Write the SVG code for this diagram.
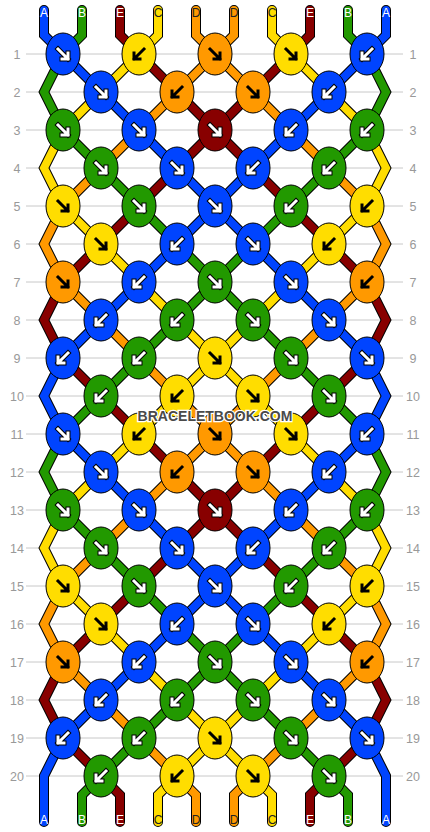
<svg xmlns="http://www.w3.org/2000/svg" xmlns:xlink="http://www.w3.org/1999/xlink" width="430" height="832" viewBox="0 0 430 832">
<style>
.grid{stroke:#c8c8c8;stroke-width:1}
.rl{font-family:"Liberation Sans",Arial,sans-serif;font-size:12.5px;fill:#999;text-anchor:middle}
.sl{font-family:"Liberation Sans",Arial,sans-serif;font-size:12px;text-anchor:middle}
.so{fill:none;stroke:#000;stroke-width:10;stroke-linecap:round;stroke-linejoin:miter;stroke-miterlimit:4}
.si{fill:none;stroke-width:8;stroke-linecap:round;stroke-linejoin:miter;stroke-miterlimit:4}
.b{stroke:#0044ff}.g{stroke:#229900}.r{stroke:#880000}.y{stroke:#ffdd00}.o{stroke:#ff9900}
.cb{fill:#0044ff}.cg{fill:#229900}.cr{fill:#880000}.cy{fill:#ffdd00}.co{fill:#ff9900}
.wm{font-family:"Liberation Sans",Arial,sans-serif;font-size:14px;font-weight:bold;fill:#4a4a4a;stroke:#fff;stroke-width:2.5;paint-order:stroke;text-anchor:middle}
</style>
<defs>
<ellipse id="e" rx="17" ry="21" stroke="#000" stroke-width="1"/>
<g id="fw" fill="none" stroke-linecap="square"><path d="M-5,-5L5,5M-1,5H5V-1" stroke="#000" stroke-width="5"/><path d="M-5,-5L5,5M-1,5H5V-1" stroke="#fff" stroke-width="3"/></g>
<g id="bw" fill="none" stroke-linecap="square"><path d="M5,-5L-5,5M1,5H-5V-1" stroke="#000" stroke-width="5"/><path d="M5,-5L-5,5M1,5H-5V-1" stroke="#fff" stroke-width="3"/></g>
<g id="fk" fill="none" stroke-linecap="square"><path d="M-5,-5L5,5M-1,5H5V-1" stroke="#000" stroke-width="3"/></g>
<g id="bk" fill="none" stroke-linecap="square"><path d="M5,-5L-5,5M1,5H-5V-1" stroke="#000" stroke-width="3"/></g>
</defs>
<rect width="430" height="832" fill="#fff"/>
<g id="grid" class="grid">
<line x1="26" y1="54" x2="403" y2="54"/><line x1="26" y1="92" x2="403" y2="92"/><line x1="26" y1="130" x2="403" y2="130"/><line x1="26" y1="168" x2="403" y2="168"/><line x1="26" y1="206" x2="403" y2="206"/><line x1="26" y1="244" x2="403" y2="244"/><line x1="26" y1="282" x2="403" y2="282"/><line x1="26" y1="320" x2="403" y2="320"/><line x1="26" y1="358" x2="403" y2="358"/><line x1="26" y1="396" x2="403" y2="396"/><line x1="26" y1="434" x2="403" y2="434"/><line x1="26" y1="472" x2="403" y2="472"/><line x1="26" y1="510" x2="403" y2="510"/><line x1="26" y1="548" x2="403" y2="548"/><line x1="26" y1="586" x2="403" y2="586"/><line x1="26" y1="624" x2="403" y2="624"/><line x1="26" y1="662" x2="403" y2="662"/><line x1="26" y1="700" x2="403" y2="700"/><line x1="26" y1="738" x2="403" y2="738"/><line x1="26" y1="776" x2="403" y2="776"/>
</g>
<g id="row-labels" class="rl">
<text x="17" y="58.5">1</text><text x="17" y="96.5">2</text><text x="17" y="134.5">3</text><text x="17" y="172.5">4</text><text x="17" y="210.5">5</text><text x="17" y="248.5">6</text><text x="17" y="286.5">7</text><text x="17" y="324.5">8</text><text x="17" y="362.5">9</text><text x="17" y="400.5">10</text><text x="17" y="438.5">11</text><text x="17" y="476.5">12</text><text x="17" y="514.5">13</text><text x="17" y="552.5">14</text><text x="17" y="590.5">15</text><text x="17" y="628.5">16</text><text x="17" y="666.5">17</text><text x="17" y="704.5">18</text><text x="17" y="742.5">19</text><text x="17" y="780.5">20</text>
<text x="413" y="58.5">1</text><text x="413" y="96.5">2</text><text x="413" y="134.5">3</text><text x="413" y="172.5">4</text><text x="413" y="210.5">5</text><text x="413" y="248.5">6</text><text x="413" y="286.5">7</text><text x="413" y="324.5">8</text><text x="413" y="362.5">9</text><text x="413" y="400.5">10</text><text x="413" y="438.5">11</text><text x="413" y="476.5">12</text><text x="413" y="514.5">13</text><text x="413" y="552.5">14</text><text x="413" y="590.5">15</text><text x="413" y="628.5">16</text><text x="413" y="666.5">17</text><text x="413" y="704.5">18</text><text x="413" y="742.5">19</text><text x="413" y="780.5">20</text>
</g>
<g id="strings">
<path id="s0o" class="so" d="M44,10L44,35L63,54L101,92L139,130L177,168L215,206L253,244L291,282L329,320L367,358L386,396L367,434L329,472L291,510L253,548L215,586L177,624L139,662L101,700L63,738L44,776L44,822"/>
<path class="si b" d="M44,10L44,35L63,54L101,92L139,130L177,168L215,206L253,244L291,282L329,320L367,358L386,396L367,434L329,472L291,510L253,548L215,586L177,624L139,662L101,700L63,738L44,776L44,822"/>
<path class="so" d="M82,10L82,35L63,54L44,92L63,130L101,168L139,206L177,244L215,282L253,320L291,358L329,396L367,434L386,472L367,510L329,548L291,586L253,624L215,662L177,700L139,738L101,776L82,795L82,822"/>
<path class="si g" d="M82,10L82,35L63,54L44,92L63,130L101,168L139,206L177,244L215,282L253,320L291,358L329,396L367,434L386,472L367,510L329,548L291,586L253,624L215,662L177,700L139,738L101,776L82,795L82,822"/>
<path class="so" d="M120,10L120,35L139,54L177,92L215,130L253,168L291,206L329,244L367,282L386,320L367,358L329,396L291,434L253,472L215,510L177,548L139,586L101,624L63,662L44,700L63,738L101,776L120,795L120,822"/>
<path class="si r" d="M120,10L120,35L139,54L177,92L215,130L253,168L291,206L329,244L367,282L386,320L367,358L329,396L291,434L253,472L215,510L177,548L139,586L101,624L63,662L44,700L63,738L101,776L120,795L120,822"/>
<path class="so" d="M158,10L158,35L139,54L101,92L63,130L44,168L63,206L101,244L139,282L177,320L215,358L253,396L291,434L329,472L367,510L386,548L367,586L329,624L291,662L253,700L215,738L177,776L158,795L158,822"/>
<path class="si y" d="M158,10L158,35L139,54L101,92L63,130L44,168L63,206L101,244L139,282L177,320L215,358L253,396L291,434L329,472L367,510L386,548L367,586L329,624L291,662L253,700L215,738L177,776L158,795L158,822"/>
<path class="so" d="M196,10L196,35L215,54L253,92L291,130L329,168L367,206L386,244L367,282L329,320L291,358L253,396L215,434L177,472L139,510L101,548L63,586L44,624L63,662L101,700L139,738L177,776L196,795L196,822"/>
<path class="si o" d="M196,10L196,35L215,54L253,92L291,130L329,168L367,206L386,244L367,282L329,320L291,358L253,396L215,434L177,472L139,510L101,548L63,586L44,624L63,662L101,700L139,738L177,776L196,795L196,822"/>
<path class="so" d="M234,10L234,35L215,54L177,92L139,130L101,168L63,206L44,244L63,282L101,320L139,358L177,396L215,434L253,472L291,510L329,548L367,586L386,624L367,662L329,700L291,738L253,776L234,795L234,822"/>
<path class="si o" d="M234,10L234,35L215,54L177,92L139,130L101,168L63,206L44,244L63,282L101,320L139,358L177,396L215,434L253,472L291,510L329,548L367,586L386,624L367,662L329,700L291,738L253,776L234,795L234,822"/>
<path class="so" d="M272,10L272,35L291,54L329,92L367,130L386,168L367,206L329,244L291,282L253,320L215,358L177,396L139,434L101,472L63,510L44,548L63,586L101,624L139,662L177,700L215,738L253,776L272,795L272,822"/>
<path class="si y" d="M272,10L272,35L291,54L329,92L367,130L386,168L367,206L329,244L291,282L253,320L215,358L177,396L139,434L101,472L63,510L44,548L63,586L101,624L139,662L177,700L215,738L253,776L272,795L272,822"/>
<path class="so" d="M310,10L310,35L291,54L253,92L215,130L177,168L139,206L101,244L63,282L44,320L63,358L101,396L139,434L177,472L215,510L253,548L291,586L329,624L367,662L386,700L367,738L329,776L310,795L310,822"/>
<path class="si r" d="M310,10L310,35L291,54L253,92L215,130L177,168L139,206L101,244L63,282L44,320L63,358L101,396L139,434L177,472L215,510L253,548L291,586L329,624L367,662L386,700L367,738L329,776L310,795L310,822"/>
<path class="so" d="M348,10L348,35L367,54L386,92L367,130L329,168L291,206L253,244L215,282L177,320L139,358L101,396L63,434L44,472L63,510L101,548L139,586L177,624L215,662L253,700L291,738L329,776L348,795L348,822"/>
<path class="si g" d="M348,10L348,35L367,54L386,92L367,130L329,168L291,206L253,244L215,282L177,320L139,358L101,396L63,434L44,472L63,510L101,548L139,586L177,624L215,662L253,700L291,738L329,776L348,795L348,822"/>
<path class="so" d="M386,10L386,35L367,54L329,92L291,130L253,168L215,206L177,244L139,282L101,320L63,358L44,396L63,434L101,472L139,510L177,548L215,586L253,624L291,662L329,700L367,738L386,776L386,822"/>
<path class="si b" d="M386,10L386,35L367,54L329,92L291,130L253,168L215,206L177,244L139,282L101,320L63,358L44,396L63,434L101,472L139,510L177,548L215,586L253,624L291,662L329,700L367,738L386,776L386,822"/>
</g>
<g id="string-labels" class="sl">
<text x="44" y="16.5" fill="#fff">A</text><text x="82" y="16.5" fill="#fff">B</text><text x="120" y="16.5" fill="#fff">E</text><text x="158" y="16.5" fill="#222">C</text><text x="196" y="16.5" fill="#222">D</text><text x="234" y="16.5" fill="#222">D</text><text x="272" y="16.5" fill="#222">C</text><text x="310" y="16.5" fill="#fff">E</text><text x="348" y="16.5" fill="#fff">B</text><text x="386" y="16.5" fill="#fff">A</text>
<text x="44" y="824" fill="#fff">A</text><text x="82" y="824" fill="#fff">B</text><text x="120" y="824" fill="#fff">E</text><text x="158" y="824" fill="#222">C</text><text x="196" y="824" fill="#222">D</text><text x="234" y="824" fill="#222">D</text><text x="272" y="824" fill="#222">C</text><text x="310" y="824" fill="#fff">E</text><text x="348" y="824" fill="#fff">B</text><text x="386" y="824" fill="#fff">A</text>
</g>
<g id="knots">
<g id="k1-1"><use href="#e" x="63" y="54" class="cb"/><use href="#fw" x="63" y="54"/></g>
<g id="k1-2"><use href="#e" x="139" y="54" class="cy"/><use href="#bk" x="139" y="54"/></g>
<g id="k1-3"><use href="#e" x="215" y="54" class="co"/><use href="#fk" x="215" y="54"/></g>
<g id="k1-4"><use href="#e" x="291" y="54" class="cy"/><use href="#fk" x="291" y="54"/></g>
<g id="k1-5"><use href="#e" x="367" y="54" class="cb"/><use href="#bw" x="367" y="54"/></g>
<g id="k2-1"><use href="#e" x="101" y="92" class="cb"/><use href="#fw" x="101" y="92"/></g>
<g id="k2-2"><use href="#e" x="177" y="92" class="co"/><use href="#bk" x="177" y="92"/></g>
<g id="k2-3"><use href="#e" x="253" y="92" class="co"/><use href="#fk" x="253" y="92"/></g>
<g id="k2-4"><use href="#e" x="329" y="92" class="cb"/><use href="#bw" x="329" y="92"/></g>
<g id="k3-1"><use href="#e" x="63" y="130" class="cg"/><use href="#fw" x="63" y="130"/></g>
<g id="k3-2"><use href="#e" x="139" y="130" class="cb"/><use href="#fw" x="139" y="130"/></g>
<g id="k3-3"><use href="#e" x="215" y="130" class="cr"/><use href="#fw" x="215" y="130"/></g>
<g id="k3-4"><use href="#e" x="291" y="130" class="cb"/><use href="#bw" x="291" y="130"/></g>
<g id="k3-5"><use href="#e" x="367" y="130" class="cg"/><use href="#bw" x="367" y="130"/></g>
<g id="k4-1"><use href="#e" x="101" y="168" class="cg"/><use href="#fw" x="101" y="168"/></g>
<g id="k4-2"><use href="#e" x="177" y="168" class="cb"/><use href="#fw" x="177" y="168"/></g>
<g id="k4-3"><use href="#e" x="253" y="168" class="cb"/><use href="#bw" x="253" y="168"/></g>
<g id="k4-4"><use href="#e" x="329" y="168" class="cg"/><use href="#bw" x="329" y="168"/></g>
<g id="k5-1"><use href="#e" x="63" y="206" class="cy"/><use href="#fk" x="63" y="206"/></g>
<g id="k5-2"><use href="#e" x="139" y="206" class="cg"/><use href="#fw" x="139" y="206"/></g>
<g id="k5-3"><use href="#e" x="215" y="206" class="cb"/><use href="#fw" x="215" y="206"/></g>
<g id="k5-4"><use href="#e" x="291" y="206" class="cg"/><use href="#bw" x="291" y="206"/></g>
<g id="k5-5"><use href="#e" x="367" y="206" class="cy"/><use href="#bk" x="367" y="206"/></g>
<g id="k6-1"><use href="#e" x="101" y="244" class="cy"/><use href="#fk" x="101" y="244"/></g>
<g id="k6-2"><use href="#e" x="177" y="244" class="cb"/><use href="#bw" x="177" y="244"/></g>
<g id="k6-3"><use href="#e" x="253" y="244" class="cb"/><use href="#fw" x="253" y="244"/></g>
<g id="k6-4"><use href="#e" x="329" y="244" class="cy"/><use href="#bk" x="329" y="244"/></g>
<g id="k7-1"><use href="#e" x="63" y="282" class="co"/><use href="#fk" x="63" y="282"/></g>
<g id="k7-2"><use href="#e" x="139" y="282" class="cb"/><use href="#bw" x="139" y="282"/></g>
<g id="k7-3"><use href="#e" x="215" y="282" class="cg"/><use href="#fw" x="215" y="282"/></g>
<g id="k7-4"><use href="#e" x="291" y="282" class="cb"/><use href="#fw" x="291" y="282"/></g>
<g id="k7-5"><use href="#e" x="367" y="282" class="co"/><use href="#bk" x="367" y="282"/></g>
<g id="k8-1"><use href="#e" x="101" y="320" class="cb"/><use href="#bw" x="101" y="320"/></g>
<g id="k8-2"><use href="#e" x="177" y="320" class="cg"/><use href="#bw" x="177" y="320"/></g>
<g id="k8-3"><use href="#e" x="253" y="320" class="cg"/><use href="#fw" x="253" y="320"/></g>
<g id="k8-4"><use href="#e" x="329" y="320" class="cb"/><use href="#fw" x="329" y="320"/></g>
<g id="k9-1"><use href="#e" x="63" y="358" class="cb"/><use href="#bw" x="63" y="358"/></g>
<g id="k9-2"><use href="#e" x="139" y="358" class="cg"/><use href="#bw" x="139" y="358"/></g>
<g id="k9-3"><use href="#e" x="215" y="358" class="cy"/><use href="#fk" x="215" y="358"/></g>
<g id="k9-4"><use href="#e" x="291" y="358" class="cg"/><use href="#fw" x="291" y="358"/></g>
<g id="k9-5"><use href="#e" x="367" y="358" class="cb"/><use href="#fw" x="367" y="358"/></g>
<g id="k10-1"><use href="#e" x="101" y="396" class="cg"/><use href="#bw" x="101" y="396"/></g>
<g id="k10-2"><use href="#e" x="177" y="396" class="cy"/><use href="#bk" x="177" y="396"/></g>
<g id="k10-3"><use href="#e" x="253" y="396" class="cy"/><use href="#fk" x="253" y="396"/></g>
<g id="k10-4"><use href="#e" x="329" y="396" class="cg"/><use href="#fw" x="329" y="396"/></g>
<g id="k11-1"><use href="#e" x="63" y="434" class="cb"/><use href="#fw" x="63" y="434"/></g>
<g id="k11-2"><use href="#e" x="139" y="434" class="cy"/><use href="#bk" x="139" y="434"/></g>
<g id="k11-3"><use href="#e" x="215" y="434" class="co"/><use href="#fk" x="215" y="434"/></g>
<g id="k11-4"><use href="#e" x="291" y="434" class="cy"/><use href="#fk" x="291" y="434"/></g>
<g id="k11-5"><use href="#e" x="367" y="434" class="cb"/><use href="#bw" x="367" y="434"/></g>
<g id="k12-1"><use href="#e" x="101" y="472" class="cb"/><use href="#fw" x="101" y="472"/></g>
<g id="k12-2"><use href="#e" x="177" y="472" class="co"/><use href="#bk" x="177" y="472"/></g>
<g id="k12-3"><use href="#e" x="253" y="472" class="co"/><use href="#fk" x="253" y="472"/></g>
<g id="k12-4"><use href="#e" x="329" y="472" class="cb"/><use href="#bw" x="329" y="472"/></g>
<g id="k13-1"><use href="#e" x="63" y="510" class="cg"/><use href="#fw" x="63" y="510"/></g>
<g id="k13-2"><use href="#e" x="139" y="510" class="cb"/><use href="#fw" x="139" y="510"/></g>
<g id="k13-3"><use href="#e" x="215" y="510" class="cr"/><use href="#fw" x="215" y="510"/></g>
<g id="k13-4"><use href="#e" x="291" y="510" class="cb"/><use href="#bw" x="291" y="510"/></g>
<g id="k13-5"><use href="#e" x="367" y="510" class="cg"/><use href="#bw" x="367" y="510"/></g>
<g id="k14-1"><use href="#e" x="101" y="548" class="cg"/><use href="#fw" x="101" y="548"/></g>
<g id="k14-2"><use href="#e" x="177" y="548" class="cb"/><use href="#fw" x="177" y="548"/></g>
<g id="k14-3"><use href="#e" x="253" y="548" class="cb"/><use href="#bw" x="253" y="548"/></g>
<g id="k14-4"><use href="#e" x="329" y="548" class="cg"/><use href="#bw" x="329" y="548"/></g>
<g id="k15-1"><use href="#e" x="63" y="586" class="cy"/><use href="#fk" x="63" y="586"/></g>
<g id="k15-2"><use href="#e" x="139" y="586" class="cg"/><use href="#fw" x="139" y="586"/></g>
<g id="k15-3"><use href="#e" x="215" y="586" class="cb"/><use href="#fw" x="215" y="586"/></g>
<g id="k15-4"><use href="#e" x="291" y="586" class="cg"/><use href="#bw" x="291" y="586"/></g>
<g id="k15-5"><use href="#e" x="367" y="586" class="cy"/><use href="#bk" x="367" y="586"/></g>
<g id="k16-1"><use href="#e" x="101" y="624" class="cy"/><use href="#fk" x="101" y="624"/></g>
<g id="k16-2"><use href="#e" x="177" y="624" class="cb"/><use href="#bw" x="177" y="624"/></g>
<g id="k16-3"><use href="#e" x="253" y="624" class="cb"/><use href="#fw" x="253" y="624"/></g>
<g id="k16-4"><use href="#e" x="329" y="624" class="cy"/><use href="#bk" x="329" y="624"/></g>
<g id="k17-1"><use href="#e" x="63" y="662" class="co"/><use href="#fk" x="63" y="662"/></g>
<g id="k17-2"><use href="#e" x="139" y="662" class="cb"/><use href="#bw" x="139" y="662"/></g>
<g id="k17-3"><use href="#e" x="215" y="662" class="cg"/><use href="#fw" x="215" y="662"/></g>
<g id="k17-4"><use href="#e" x="291" y="662" class="cb"/><use href="#fw" x="291" y="662"/></g>
<g id="k17-5"><use href="#e" x="367" y="662" class="co"/><use href="#bk" x="367" y="662"/></g>
<g id="k18-1"><use href="#e" x="101" y="700" class="cb"/><use href="#bw" x="101" y="700"/></g>
<g id="k18-2"><use href="#e" x="177" y="700" class="cg"/><use href="#bw" x="177" y="700"/></g>
<g id="k18-3"><use href="#e" x="253" y="700" class="cg"/><use href="#fw" x="253" y="700"/></g>
<g id="k18-4"><use href="#e" x="329" y="700" class="cb"/><use href="#fw" x="329" y="700"/></g>
<g id="k19-1"><use href="#e" x="63" y="738" class="cb"/><use href="#bw" x="63" y="738"/></g>
<g id="k19-2"><use href="#e" x="139" y="738" class="cg"/><use href="#bw" x="139" y="738"/></g>
<g id="k19-3"><use href="#e" x="215" y="738" class="cy"/><use href="#fk" x="215" y="738"/></g>
<g id="k19-4"><use href="#e" x="291" y="738" class="cg"/><use href="#fw" x="291" y="738"/></g>
<g id="k19-5"><use href="#e" x="367" y="738" class="cb"/><use href="#fw" x="367" y="738"/></g>
<g id="k20-1"><use href="#e" x="101" y="776" class="cg"/><use href="#bw" x="101" y="776"/></g>
<g id="k20-2"><use href="#e" x="177" y="776" class="cy"/><use href="#bk" x="177" y="776"/></g>
<g id="k20-3"><use href="#e" x="253" y="776" class="cy"/><use href="#fk" x="253" y="776"/></g>
<g id="k20-4"><use href="#e" x="329" y="776" class="cg"/><use href="#fw" x="329" y="776"/></g>
</g>
<text class="wm" x="215" y="421">BRACELETBOOK.COM</text>
</svg>
